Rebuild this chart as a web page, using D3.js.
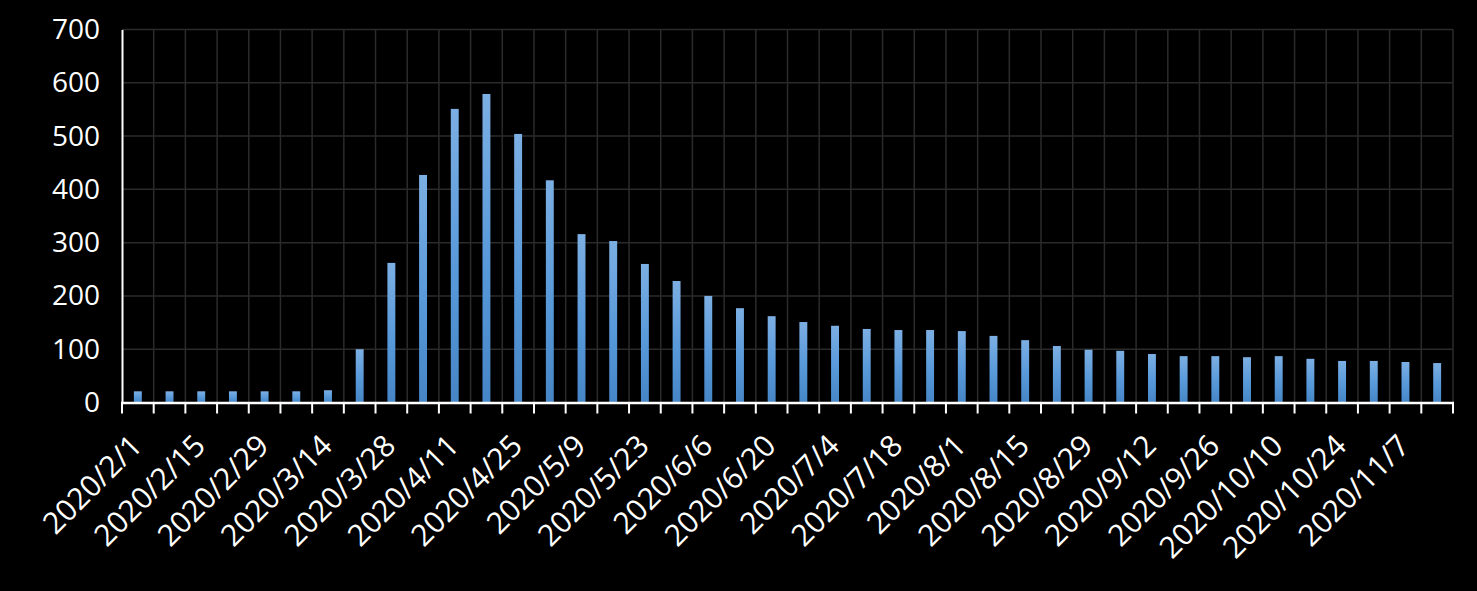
<!DOCTYPE html>
<html>
<head>
<meta charset="utf-8">
<script src="https://cdn.jsdelivr.net/npm/d3@7"></script>
<style>
  html, body { margin: 0; padding: 0; background: #000; }
  svg { display: block; }
</style>
</head>
<body>
<svg id="chart" width="1477" height="591"></svg>
<script>
// Weekly categories (2020/2/1 .. 2020/11/14)
const categories = [
  "2020/2/1","2020/2/8","2020/2/15","2020/2/22","2020/2/29","2020/3/7","2020/3/14",
  "2020/3/21","2020/3/28","2020/4/4","2020/4/11","2020/4/18","2020/4/25","2020/5/2",
  "2020/5/9","2020/5/16","2020/5/23","2020/5/30","2020/6/6","2020/6/13","2020/6/20",
  "2020/6/27","2020/7/4","2020/7/11","2020/7/18","2020/7/25","2020/8/1","2020/8/8",
  "2020/8/15","2020/8/22","2020/8/29","2020/9/5","2020/9/12","2020/9/19","2020/9/26",
  "2020/10/3","2020/10/10","2020/10/17","2020/10/24","2020/10/31","2020/11/7","2020/11/14"
];
const values = [
  21, 21, 21, 21, 21, 21, 23,
  100, 262, 427, 551, 579, 504, 417,
  316, 303, 260, 228, 200, 177, 162,
  151, 144, 138, 136, 136, 134, 125,
  117, 106, 99, 97, 91, 87, 87,
  85, 87, 82, 78, 78, 76, 74
];
const yTicks = [0, 100, 200, 300, 400, 500, 600, 700];
// every second category is labelled
const shownLabels = categories.filter((d, i) => i % 2 === 0);

(function () {
const svg = d3.select("#chart");
const W = 1477, H = 591;
svg.append("rect").attr("width", W).attr("height", H).attr("fill", "#000");

const pLeft = 122, pRight = 1453, pTop = 29.5, pBottom = 402.5;

const x = d3.scaleBand().domain(categories).range([pLeft, pRight]).padding(0);
const y = d3.scaleLinear().domain([0, 700]).range([pBottom, pTop]);

const defs = svg.append("defs");
const grad = defs.append("linearGradient").attr("id", "barGrad")
  .attr("x1", 0).attr("y1", 0).attr("x2", 0).attr("y2", 1);
grad.append("stop").attr("offset", "0%").attr("stop-color", "#7cafe3");
grad.append("stop").attr("offset", "55%").attr("stop-color", "#5899da");
grad.append("stop").attr("offset", "100%").attr("stop-color", "#4686c6");

const FONT = "'Open Sans', 'Noto Sans', sans-serif";

// horizontal gridlines
svg.append("g").selectAll("line").data(yTicks.filter(d => d > 0)).join("line")
  .attr("x1", pLeft).attr("x2", pRight)
  .attr("y1", d => y(d)).attr("y2", d => y(d))
  .attr("stroke", "#2b2b2b").attr("stroke-width", 1.5);

// vertical gridlines at category boundaries
const boundaries = categories.map(c => x(c)).concat([x(categories[categories.length - 1]) + x.step()]);
svg.append("g").selectAll("line").data(boundaries.slice(1)).join("line")
  .attr("x1", d => d).attr("x2", d => d)
  .attr("y1", pTop).attr("y2", pBottom)
  .attr("stroke", "#2b2b2b").attr("stroke-width", 1.5);

// bars
const bw = x.step() * 0.25;
svg.append("g").selectAll("rect").data(values).join("rect")
  .attr("x", (d, i) => x(categories[i]) + x.step() / 2 - bw / 2)
  .attr("width", bw)
  .attr("y", d => y(d))
  .attr("height", d => y(0) - y(d))
  .attr("fill", "url(#barGrad)");

// y axis
const yAxis = d3.axisLeft(y).tickValues(yTicks).tickSize(0).tickPadding(22);
const yg = svg.append("g").attr("transform", `translate(${pLeft},0)`).call(yAxis);
yg.select(".domain").attr("stroke", "#fff").attr("stroke-width", 2);
yg.selectAll("text").attr("fill", "#fff").style("font-family", FONT).style("font-size", "28px");

// x axis baseline and ticks at boundaries
svg.append("line").attr("x1", pLeft - 1).attr("x2", pRight + 1)
  .attr("y1", pBottom + 0.5).attr("y2", pBottom + 0.5)
  .attr("stroke", "#fff").attr("stroke-width", 2.5);
svg.append("g").selectAll("line").data(boundaries).join("line")
  .attr("x1", d => d).attr("x2", d => d)
  .attr("y1", pBottom).attr("y2", pBottom + 11)
  .attr("stroke", "#fff").attr("stroke-width", 2);

// x labels rotated
svg.append("g").selectAll("text").data(shownLabels).join("text")
  .attr("transform", d => `translate(${x(d) + x.step() / 2 + 6},${pBottom + 45}) rotate(-45)`)
  .attr("text-anchor", "end")
  .attr("fill", "#fff")
  .style("font-family", FONT).style("font-size", "30px")
  .text(d => d);
})();
</script>
</body>
</html>
